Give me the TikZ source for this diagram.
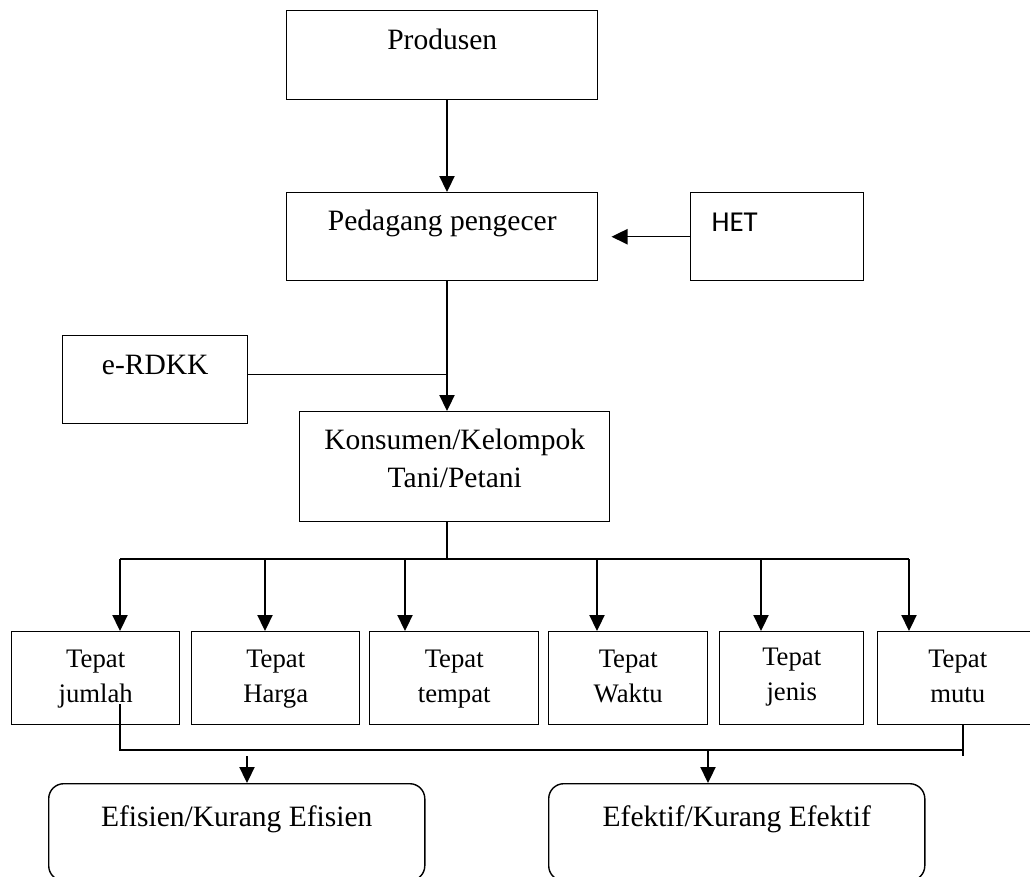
\documentclass[tikz,border=0pt]{standalone}
\usepackage{fontspec}
\setmainfont{Liberation Serif}
\newfontfamily\hetfont{Carlito}
\usepackage{tikz}
\usetikzlibrary{arrows.meta}
\newcommand{\besar}{\fontsize{21}{27}\selectfont}
\newcommand{\kecil}{\fontsize{19}{24.9}\selectfont}
\tikzstyle{kotak} = [rectangle, anchor=north west, inner sep=0pt, font=\besar, text height=0.975cm, text depth=1.25cm, draw=black]
\tikzstyle{tepat} = [rectangle, anchor=north west, inner sep=0pt, align=center, font=\kecil, text height=1.775cm, text depth=0.55cm, draw=black]
\tikzstyle{hasil} = [rectangle, rounded corners=0.375cm, anchor=north west, inner sep=0pt, minimum width=9.4cm, font=\besar, text height=1.075cm, text depth=1.35cm, draw=black]
\tikzstyle{arrow} = [-{Triangle[length=0.4cm, width=0.38cm]}]

\begin{document}
\begin{tikzpicture}[x=0.025cm, y=-0.025cm, line width=1pt]
\useasboundingbox (0,0) rectangle (1030,876);

\node (produsen) [kotak, minimum width=7.775cm] at (286,10) {Produsen};
\node (pedagang) [kotak, minimum width=7.775cm, text height=0.95cm] at (286,192) {Pedagang pengecer};
\node (het) [kotak, font={\hetfont\fontsize{20.5}{25}\selectfont}, text width=3.275cm, align=left, inner xsep=0.525cm, text height=0.965cm, text depth=1.235cm] at (690,192) {HET};
\node (erdkk) [kotak, minimum width=4.625cm, text depth=1.225cm] at (62,335) {e-RDKK};
\node (konsumen) [kotak, minimum width=7.75cm, align=center, text height=1.9cm, text depth=0.85cm] at (299,411) {Konsumen/Kelompok\\Tani/Petani};

\node (jumlah) [tepat, minimum width=4.2cm] at (11,631) {Tepat\\jumlah};
\node (harga) [tepat, minimum width=4.2cm] at (191,631) {Tepat\\Harga};
\node (tempat) [tepat, minimum width=4.225cm] at (369,631) {Tepat\\tempat};
\node (waktu) [tepat, minimum width=3.975cm] at (548,631) {Tepat\\Waktu};
\node (jenis) [tepat, minimum width=3.6cm, text height=1.725cm, text depth=0.6cm] at (719,631) {Tepat\\jenis};
\node (mutu) [tepat, minimum width=4cm] at (877,631) {Tepat\\mutu};

\node (efisien) [hasil] at (48,783) {Efisien/Kurang Efisien};
\node (efektif) [hasil] at (548,783) {Efektif/Kurang Efektif};

\coordinate (poros) at (447,0);
\coordinate (bus) at (0,559);
\draw [arrow] (produsen.south -| poros) -- (pedagang.north -| poros);
\draw [arrow] (het.west) -- ([xshift=0.325cm]pedagang.east |- het.west);
\draw [arrow] (pedagang.south -| poros) -- (konsumen.north -| poros);
\draw ([yshift=0.125cm]erdkk.east) -- ([yshift=0.125cm]erdkk.east -| poros);
\draw (konsumen.south -| poros) -- (bus -| poros);

\foreach \n/\x in {jumlah/120, harga/265, tempat/405, waktu/597, jenis/761, mutu/909}
{
  \coordinate (c\n) at (\x,559);
  \draw [arrow] (c\n) -- (\n.north -| c\n);
}
\draw (cjumlah) -- (cmutu);

\coordinate (bawahkiri) at (120,704);
\coordinate (bawahkanan) at (963,750);
\draw (bawahkiri) |- (bawahkanan);
\draw (mutu.south -| bawahkanan) -- ++(0,31);

\coordinate (ke1) at (247,756);
\coordinate (ke2) at (708,750);
\draw [arrow] (ke1) -- (efisien.north -| ke1);
\draw [arrow] (ke2) -- (efektif.north -| ke2);

\end{tikzpicture}
\end{document}
